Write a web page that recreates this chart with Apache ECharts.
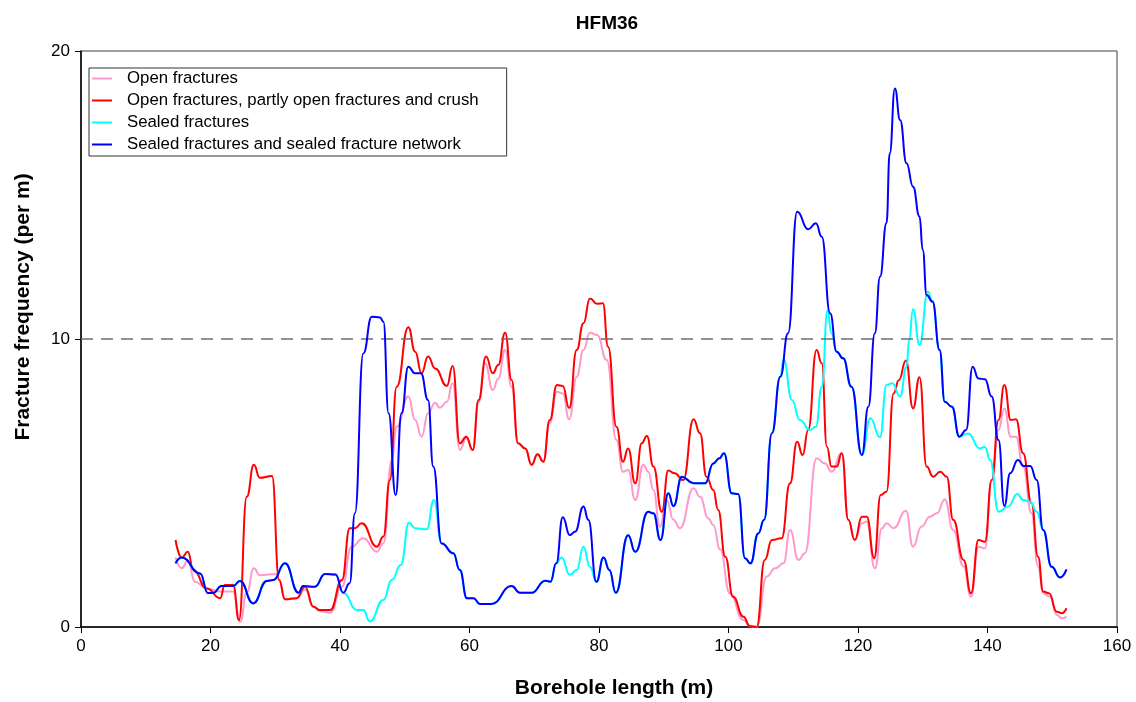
<!DOCTYPE html>
<html>
<head>
<meta charset="utf-8">
<title>HFM36</title>
<script src="https://cdn.jsdelivr.net/npm/echarts@6/dist/echarts.min.js"></script>
<style>
  html, body { margin: 0; padding: 0; background: #fff; }
  #chart { width: 1136px; height: 702px; }
</style>
</head>
<body>
<div id="chart"></div>
<script>
// borehole length (m), fracture frequency (per m) pairs
const openFractures = [
  [14.6,2.41],[15.55,2.04],[16.5,2.3],[17.6,1.57],[19.4,1.34],[21.5,1.23],[22.2,1.23],[23.5,1.23],
  [24.6,0.18],[25.6,1.2],[26.7,2.04],[27.6,1.8],[30.2,1.84],[30.6,1.63],[31.5,0.96],[33.3,1.0],
  [34.6,1.3],[35.9,0.7],[36.9,0.55],[38.5,0.5],[40.3,1.4],[41.8,2.79],[43.6,3.08],[45.7,2.61],
  [46.7,2.91],[48.0,5.8],[48.75,6.95],[50.55,8.0],[51.6,7.19],[52.6,6.61],[53.6,7.42],[54.7,7.79],
  [55.4,7.61],[56.5,7.82],[57.4,8.46],[58.5,6.15],[59.5,6.55],[60.5,6.15],[61.4,7.8],[62.4,9.16],
  [63.6,8.23],[64.45,8.63],[65.5,9.62],[66.5,8.34],[67.5,6.38],[68.6,6.2],[69.6,5.63],[70.5,6.0],
  [71.4,5.74],[72.4,7.1],[73.5,8.17],[74.4,8.11],[75.4,7.21],[76.55,8.69],[77.6,9.62],[78.6,10.22],
  [79.7,10.14],[81.2,9.27],[82.7,6.49],[83.7,5.39],[84.5,5.45],[85.6,4.41],[86.85,5.63],[87.6,5.39],
  [88.4,4.76],[89.4,3.48],[90.45,4.41],[91.5,3.72],[92.5,3.43],[94.6,4.82],[95.6,4.52],[96.9,3.77],
  [97.65,3.54],[98.7,2.7],[100.2,1.17],[102.3,0.24],[103.3,0.03],[104.35,0],[105.9,1.75],[107.2,2.04],
  [108.5,2.21],[109.5,3.37],[110.8,2.33],[111.8,2.56],[113.6,5.86],[114.9,5.68],[115.9,5.39],[117.5,6.03],
  [118.5,3.72],[119.5,3.02],[120.6,3.6],[121.35,3.66],[122.6,2.04],[123.7,3.43],[124.4,3.6],[125.5,3.43],
  [127.4,4.04],[128.5,2.79],[129.8,3.48],[131.1,3.83],[132.2,3.95],[133.4,4.43],[134.7,3.37],[136.3,2.1],
  [137.45,1.05],[138.6,2.79],[139.6,2.73],[140.65,5.1],[141.7,6.84],[142.6,7.59],[143.6,6.61],[144.4,6.61],
  [145.5,5.57],[146.8,3.95],[147.8,2.1],[148.6,1.17],[149.65,1.05],[150.7,0.42],[151.5,0.3],[152.2,0.36]
]

const openPartlyCrush = [
  [14.6,3.02],[15.55,2.41],[16.5,2.61],[17.35,1.98],[19.4,1.34],[21.5,1.0],[22.2,1.46],[23.5,1.46],
  [24.4,0.24],[25.6,4.52],[26.7,5.63],[27.6,5.18],[29.5,5.24],[30.6,1.63],[31.5,0.96],[33.3,1.0],
  [34.6,1.4],[35.9,0.7],[36.9,0.59],[38.5,0.59],[40.3,1.63],[41.5,3.43],[42.3,3.43],[43.35,3.6],
  [45.7,2.79],[46.7,3.14],[47.7,5.1],[48.75,8.34],[50.55,10.41],[51.6,9.56],[52.6,8.81],[53.6,9.39],
  [54.7,8.98],[56.5,8.37],[57.4,9.06],[58.5,6.38],[59.5,6.61],[60.5,6.15],[61.4,7.88],[62.55,9.39],
  [63.6,8.81],[64.45,9.1],[65.5,10.22],[66.5,8.58],[67.5,6.38],[68.6,6.2],[69.6,5.63],[70.5,6.0],
  [71.4,5.74],[72.4,7.19],[73.5,8.4],[74.4,8.37],[75.4,7.6],[76.55,9.62],[77.6,10.55],[78.6,11.41],
  [79.7,11.22],[80.6,11.24],[81.4,9.73],[82.7,6.95],[83.7,5.74],[84.5,6.2],[85.6,4.99],[86.6,6.38],
  [87.4,6.63],[88.4,5.57],[89.7,4.0],[90.7,5.43],[91.7,5.34],[93.0,5.1],[94.6,7.21],[95.6,6.73],
  [96.6,5.22],[97.65,4.76],[98.4,4.06],[99.5,2.44],[100.7,1.05],[102.3,0.36],[103.3,0.03],[104.35,0],
  [105.6,2.33],[106.7,3.02],[108.2,3.08],[109.5,4.99],[110.6,6.43],[111.45,5.97],[112.3,6.84],[113.6,9.62],
  [114.4,9.16],[115.2,6.26],[115.9,5.57],[116.7,5.57],[117.5,6.03],[118.5,3.72],[119.5,3.02],[120.6,3.83],
  [121.35,3.83],[122.5,2.39],[123.5,4.58],[124.4,4.7],[125.5,8.11],[126.3,8.57],[127.4,9.25],[128.5,7.59],
  [129.5,8.67],[130.6,5.57],[131.6,5.22],[132.7,5.39],[133.7,5.22],[134.7,3.72],[136.3,2.33],[137.45,1.17],
  [138.6,3.02],[139.6,2.96],[140.65,5.1],[141.7,7.19],[142.6,8.4],[143.6,7.19],[144.4,7.21],[145.5,6.03],
  [146.8,4.3],[147.8,2.44],[148.6,1.23],[149.5,1.17],[150.7,0.53],[151.5,0.48],[152.2,0.65]
]

const sealedFractures = [
  [14.6,2.21],[15.55,2.41],[18.4,1.86],[19.6,1.18],[20.4,1.18],[21.7,1.42],[23.5,1.42],[24.55,1.6],
  [26.6,0.82],[28.7,1.6],[29.7,1.63],[31.5,2.21],[33.6,1.19],[34.3,1.42],[36.1,1.4],[37.7,1.84],
  [39.3,1.82],[40.5,1.19],[42.6,0.59],[43.6,0.59],[44.6,0.19],[46.7,0.94],[48.0,1.63],[49.4,2.15],
  [50.65,3.62],[51.6,3.43],[53.4,3.39],[54.5,4.41],[55.7,2.9],[57.5,2.56],[58.5,1.98],[59.6,1.0],
  [60.6,1.0],[61.6,0.8],[63.4,0.8],[66.5,1.42],[67.8,1.19],[69.6,1.19],[71.7,1.61],[72.5,1.57],
  [73.4,2.21],[74.2,2.41],[75.5,1.81],[76.55,1.98],[77.6,2.79],[78.6,2.09],[79.6,1.57],[80.7,2.41],
  [81.6,1.98],[82.6,1.19],[84.5,3.19],[85.6,2.61],[87.6,4.0],[88.4,3.95],[89.5,3.02],[90.7,4.64],
  [91.5,4.2],[92.8,5.22],[94.6,4.99],[96.4,4.99],[97.65,5.68],[98.6,5.86],[99.3,6.03],[100.5,4.64],
  [101.5,4.62],[102.55,2.39],[103.4,2.21],[104.6,3.25],[105.5,3.72],[106.7,6.73],[108.0,8.69],[108.5,9.3],
  [109.8,7.88],[111.0,7.19],[112.6,6.84],[113.5,6.95],[114.4,8.34],[115.3,11.0],[115.9,10.2],[116.7,9.56],
  [117.7,9.33],[119.0,8.34],[120.6,5.97],[121.9,7.25],[123.4,6.59],[124.4,8.4],[125.3,8.46],[126.5,8.0],
  [127.5,9.04],[127.9,9.97],[128.5,11.03],[129.5,9.79],[130.8,11.64],[131.5,11.3],[132.6,9.62],[133.4,7.82],
  [134.5,7.65],[135.65,6.61],[137.0,6.72],[138.8,6.2],[139.6,6.25],[140.4,5.8],[141.7,4.0],[143.2,4.18],
  [144.6,4.62],[145.5,4.41],[146.6,4.35],[147.6,4.0],[148.6,3.37],[149.9,2.09],[151.2,1.72],[152.2,2.0]
]

const sealedNetwork = [
  [14.6,2.21],[15.55,2.41],[18.4,1.86],[19.6,1.18],[20.4,1.18],[21.7,1.42],[23.5,1.42],[24.55,1.6],
  [26.6,0.82],[28.7,1.6],[29.7,1.63],[31.5,2.21],[33.6,1.19],[34.3,1.42],[36.1,1.4],[37.7,1.84],
  [39.3,1.82],[40.5,1.19],[41.5,1.52],[42.3,3.95],[43.6,9.5],[44.9,10.77],[46.2,10.75],[46.7,10.6],
  [47.5,7.42],[48.6,4.58],[49.5,7.42],[50.55,9.04],[51.6,8.81],[52.5,8.81],[53.6,7.88],[54.4,5.57],
  [55.7,2.9],[57.5,2.56],[58.5,1.98],[59.6,1.0],[60.6,1.0],[61.6,0.8],[63.4,0.8],[66.5,1.42],
  [67.8,1.19],[69.6,1.19],[71.7,1.61],[72.5,1.57],[73.4,2.21],[74.4,3.81],[75.5,3.19],[76.3,3.31],
  [77.6,4.18],[78.35,3.72],[79.6,1.57],[80.7,2.41],[81.6,1.98],[82.6,1.19],[84.5,3.19],[85.6,2.61],
  [87.6,4.0],[88.4,3.95],[89.5,3.02],[90.7,4.64],[91.5,4.2],[92.8,5.22],[94.6,4.99],[96.4,4.99],
  [97.65,5.68],[98.6,5.86],[99.3,6.03],[100.5,4.64],[101.5,4.62],[102.55,2.39],[103.4,2.21],[104.6,3.25],
  [105.5,3.72],[106.7,6.73],[108.0,8.69],[109.2,10.2],[110.6,14.42],[112.3,13.81],[113.5,14.02],[114.4,13.55],
  [115.7,10.89],[116.7,9.56],[117.7,9.33],[119.0,8.34],[120.6,5.97],[121.6,7.65],[122.6,10.2],[123.4,12.16],
  [124.4,14.02],[124.9,16.45],[125.7,18.7],[126.5,17.6],[127.5,16.1],[128.5,15.29],[129.5,14.25],[130.0,13.09],
  [130.6,11.53],[131.5,11.3],[132.6,9.62],[133.4,7.82],[134.5,7.65],[135.65,6.61],[136.7,6.84],[137.7,9.04],
  [138.6,8.63],[139.6,8.6],[140.65,8.0],[141.7,6.49],[142.6,4.2],[143.5,5.34],[144.7,5.8],[145.6,5.59],
  [146.6,5.59],[147.6,5.1],[148.6,3.37],[149.9,2.09],[151.2,1.72],[152.2,2.0]
]

const seriesNames = [
  'Open fractures',
  'Open fractures, partly open fractures and crush',
  'Sealed fractures',
  'Sealed fractures and sealed fracture network'
]
const seriesColors = ['#ff99cc', '#ff0000', '#00ffff', '#0000ff']
const seriesData = [openFractures, openPartlyCrush, sealedFractures, sealedNetwork]

const font = 'Liberation Sans, Arial, sans-serif'

const chart = echarts.init(document.getElementById('chart'))

const series = seriesData.map((data, i) => ({
  name: seriesNames[i],
  type: 'line',
  data: data,
  smooth: 0.5,
  smoothMonotone: 'x',
  showSymbol: false,
  symbol: 'none',
  lineStyle: { color: seriesColors[i], width: 2 },
  itemStyle: { color: seriesColors[i] },
  z: 2 + i
}))

// dashed reference line at 10 per m
series[0].markLine = {
  silent: true,
  symbol: 'none',
  label: { show: false },
  lineStyle: { color: '#6e6e6e', type: [12, 8], width: 1.5 },
  data: [{ yAxis: 10 }]
}

const axisTitle = { fontFamily: font, fontSize: 21, fontWeight: 'bold', fill: '#000' }

chart.setOption({
  animation: false,
  backgroundColor: '#fff',
  title: {
    text: 'HFM36',
    left: 602,
    top: 9,
    textAlign: 'center',
    textStyle: { fontFamily: font, fontSize: 19, fontWeight: 'bold', color: '#000' }
  },
  legend: {
    orient: 'vertical',
    left: 89,
    top: 68,
    data: seriesNames,
    icon: 'rect',
    itemWidth: 20,
    itemHeight: 2,
    itemGap: 5,
    padding: [2, 28, 3, 3],
    borderColor: '#333',
    borderWidth: 1,
    backgroundColor: '#fff',
    textStyle: { fontFamily: font, fontSize: 16.8, color: '#000', padding: [0, 0, 0, 10] }
  },
  grid: {
    left: 81,
    right: 19,
    top: 51,
    bottom: 75,
    show: true,
    borderColor: '#404040',
    borderWidth: 1
  },
  // axis titles sit off-centre in the original, so they are placed by hand
  graphic: [
    {
      type: 'text',
      x: 614,
      y: 688,
      style: Object.assign({ text: 'Borehole length (m)', align: 'center', verticalAlign: 'middle' }, axisTitle)
    },
    {
      type: 'text',
      x: 23,
      y: 307,
      rotation: Math.PI / 2,
      style: Object.assign({ text: 'Fracture frequency (per m)', align: 'center', verticalAlign: 'middle' }, axisTitle)
    }
  ],
  xAxis: {
    type: 'value',
    min: 0,
    max: 160,
    interval: 20,
    axisLine: { lineStyle: { color: '#000', width: 1.5 } },
    axisTick: { inside: false, length: 6, lineStyle: { color: '#000' } },
    axisLabel: { fontFamily: font, fontSize: 17, color: '#000', margin: 11 },
    splitLine: { show: false }
  },
  yAxis: {
    type: 'value',
    min: 0,
    max: 20,
    interval: 10,
    axisLine: { show: true, lineStyle: { color: '#000', width: 1.5 } },
    axisTick: { show: true, inside: false, length: 6, lineStyle: { color: '#000' } },
    axisLabel: { fontFamily: font, fontSize: 17, color: '#000', margin: 11 },
    splitLine: { show: false }
  },
  series: series
})
</script>
</body>
</html>
